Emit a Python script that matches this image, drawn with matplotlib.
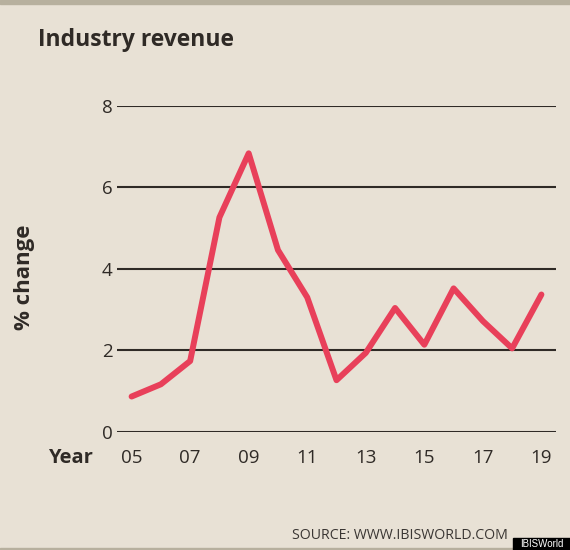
import matplotlib
matplotlib.use("Agg")
from matplotlib import pyplot as plt
from matplotlib.patches import Rectangle

# data
years = [2005, 2006, 2007, 2008, 2009, 2010, 2011, 2012, 2013, 2014, 2015, 2016, 2017, 2018, 2019]
pct_change = [0.87, 1.17, 1.74, 5.26, 6.83, 4.46, 3.30, 1.27, 1.94, 3.04, 2.14, 3.52, 2.72, 2.05, 3.37]
tick_years = [2005, 2007, 2009, 2011, 2013, 2015, 2017, 2019]
tick_labels = ['05', '07', '09', '11', '13', '15', '17', '19']
y_ticks = [0, 2, 4, 6, 8]

bg = '#e8e1d5'
ink = '#2f2a26'
red = '#e8405a'

plt.rcParams['font.family'] = ['Open Sans', 'DejaVu Sans']

fig = plt.figure(figsize=(5.7, 5.5), dpi=100, facecolor=bg)
ax = fig.add_axes([0.2047, 0.2145, 0.7703, 0.5935])
ax.set_facecolor(bg)

for y in y_ticks:
    ax.axhline(y, color=ink, lw=2.2 if y == 0 else 1.5, zorder=1)

ax.plot(years, pct_change, color=red, lw=4.3, solid_joinstyle='round',
        solid_capstyle='round', zorder=3, clip_on=False)

ax.set_xlim(2004.49, 2019.49)
ax.set_ylim(0, 8)
ax.set_xticks(tick_years)
ax.set_xticklabels(tick_labels)
ax.set_yticks(y_ticks)
ax.tick_params(length=0, labelsize=13.5, colors=ink)
ax.tick_params(axis='x', pad=12)
ax.tick_params(axis='y', pad=3)
for s in ax.spines.values():
    s.set_visible(False)

ax.set_ylabel('% change', fontsize=16, fontweight='bold', color=ink)
ax.yaxis.set_label_coords(-0.187, 0.475)

fig.text(0.067, 0.927, 'Industry revenue', fontsize=16.5, fontweight='bold', color=ink, va='center')
fig.text(0.163, 0.168, 'Year', fontsize=14.5, fontweight='bold', color=ink, ha='right', va='center')
fig.text(0.891, 0.027, 'SOURCE: WWW.IBISWORLD.COM', fontsize=10.2, color='#3a3633', ha='right', va='center')

# top and bottom border strips
fig.add_artist(Rectangle((0, 0.993), 1, 0.007, transform=fig.transFigure, color='#b7b09e'))
fig.add_artist(Rectangle((0, 0), 1, 0.004, transform=fig.transFigure, color='#b7b09e'))
# little IBISWorld tag
fig.add_artist(Rectangle((0.9, 0), 0.1, 0.021, transform=fig.transFigure, color='black'))
fig.text(0.95, 0.0105, 'IBISWorld', fontsize=7, color='white', ha='center', va='center',
         family=['Liberation Sans', 'DejaVu Sans'])

fig.savefig('out.png', dpi=100, facecolor=bg)
